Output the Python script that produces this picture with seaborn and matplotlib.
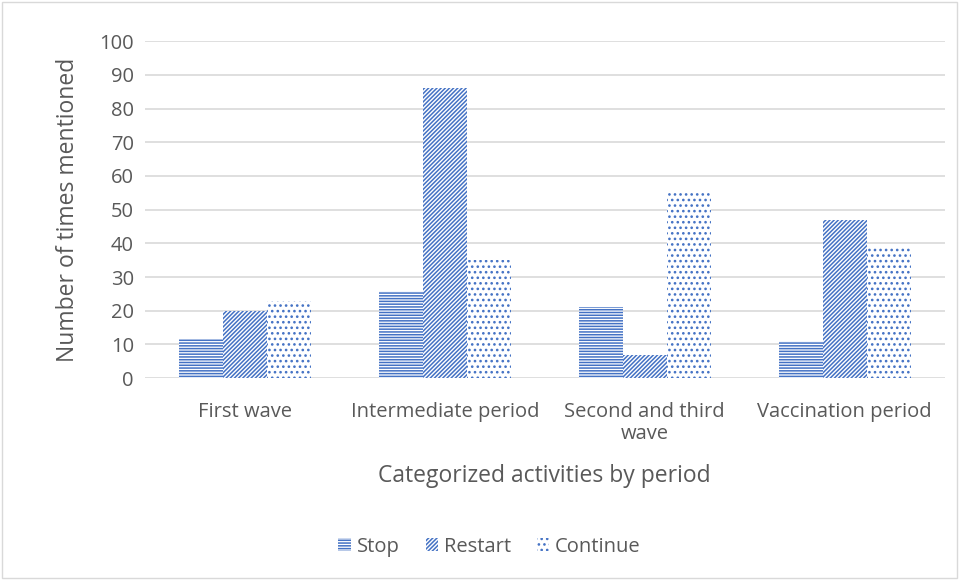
"""
Sloupcový graf aktivit podle období (Stop / Restart / Continue).
"""

import matplotlib
matplotlib.use("Agg")
import matplotlib.pyplot as plt
from matplotlib.patches import Patch
import pandas as pd
import seaborn as sns

# Data
periods = ["First wave", "Intermediate period", "Second and third\nwave", "Vaccination period"]
series = ["Stop", "Restart", "Continue"]
stop_vals = [11.5, 26, 21, 11]
restart_vals = [20, 86, 7, 47]
continue_vals = [23, 35, 55.5, 39]

hatches = {"Stop": "------", "Restart": "////////", "Continue": "..."}
blue = "#4472C4"
grey_text = "#595959"

df = pd.DataFrame({
    "period": periods * 3,
    "series": ["Stop"] * 4 + ["Restart"] * 4 + ["Continue"] * 4,
    "value": stop_vals + restart_vals + continue_vals,
})

sns.set_style("white")
plt.rcParams["font.family"] = ["Open Sans", "DejaVu Sans"]
plt.rcParams["hatch.linewidth"] = 1.1

fig = plt.figure(figsize=(9.6, 5.8), dpi=100)
ax = fig.add_axes([0.151, 0.348, 0.833, 0.581])

sns.barplot(data=df, x="period", y="value", hue="series", order=periods,
            hue_order=series, width=0.66, gap=0, ax=ax, legend=False,
            color="white")

# hatch podle série
for cont, name in zip(ax.containers, series):
    for bar in cont:
        bar.set_facecolor("white")
        bar.set_edgecolor(blue)
        bar.set_linewidth(0)
        bar.set_hatch(hatches[name])

ax.set_ylim(0, 100)
ax.set_yticks(range(0, 101, 10))
ax.yaxis.grid(True, color="#D9D9D9", linewidth=1.2)
ax.set_axisbelow(True)
for s in ax.spines.values():
    s.set_visible(False)
ax.tick_params(axis="both", length=0, labelsize=14.5, colors=grey_text, pad=8)
ax.tick_params(axis="x", pad=17)
for lbl in ax.get_xticklabels():
    lbl.set_linespacing(1.12)
ax.set_ylabel("Number of times mentioned", fontsize=16.5, color=grey_text, labelpad=14)
ax.set_xlabel("Categorized activities by period", fontsize=16.5, color=grey_text, labelpad=15)

handles = [Patch(facecolor="white", edgecolor=blue, linewidth=0, hatch=hatches[n], label=n)
           for n in series]
fig.legend(handles=handles, loc="center", bbox_to_anchor=(0.51, 0.057), ncol=3,
           frameon=False, fontsize=14.5, labelcolor=grey_text, handlelength=0.6,
           handleheight=0.6, handletextpad=0.3, columnspacing=1.3)

# rámeček kolem celého grafu
fig.patches.append(plt.Rectangle((0.002, 0.003), 0.995, 0.994, transform=fig.transFigure,
                                 fill=False, edgecolor="#D9D9D9", linewidth=1))

fig.savefig("out.png", dpi=100)
